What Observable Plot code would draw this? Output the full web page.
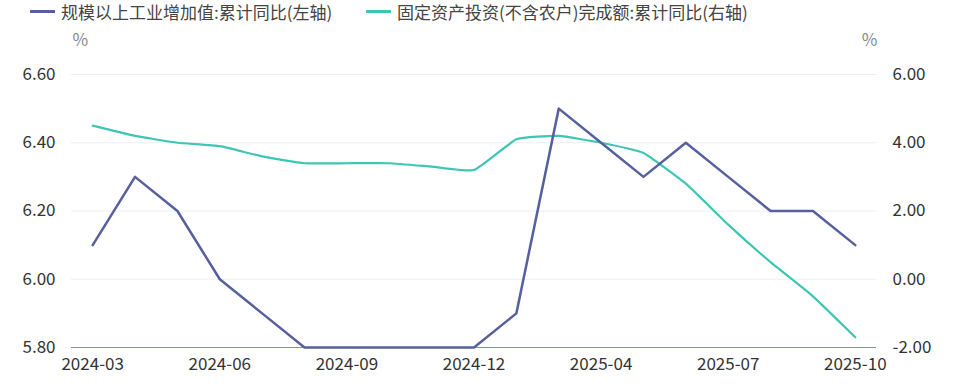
<!DOCTYPE html>
<html><head><meta charset="utf-8">
<script src="https://cdn.jsdelivr.net/npm/d3@7"></script>
<script src="https://cdn.jsdelivr.net/npm/@observablehq/plot@0.6"></script>
<style>
body{margin:0;background:#fff;font-family:"Noto Sans CJK SC","Noto Sans",sans-serif;}
#legend{height:26px;position:relative;font-size:17px;color:#444;}
.item{position:absolute;top:-1px;display:flex;align-items:center;white-space:nowrap;}
.sw{width:25px;height:3px;margin-right:6px;}
</style></head>
<body>
<div id="legend"></div>
<div id="chart"></div>
<script>
const months = ["2024-03","2024-04","2024-05","2024-06","2024-07","2024-08","2024-09","2024-10","2024-11","2024-12","2025-02","2025-03","2025-04","2025-05","2025-06","2025-07","2025-08","2025-09","2025-10"];
const industrial = [6.1,6.3,6.2,6.0,5.9,5.8,5.8,5.8,5.8,5.8,5.9,6.5,6.4,6.3,6.4,6.3,6.2,6.2,6.1];
const investment = [4.5,4.2,4.0,3.9,3.6,3.4,3.4,3.4,3.3,3.2,4.1,4.2,4.0,3.7,2.8,1.6,0.5,-0.5,-1.7];
const seriesNames = ["规模以上工业增加值:累计同比(左轴)","固定资产投资(不含农户)完成额:累计同比(右轴)"];
const colors = ["#56609f","#3dc6b5"];
const leftTicks = [5.8,6.0,6.2,6.4,6.6];
const xTicks = ["2024-03","2024-06","2024-09","2024-12","2025-04","2025-07","2025-10"];

// right axis (-2..6) mapped onto left axis (5.8..6.6)
const toLeft = v => 5.8 + (v + 2) * 0.1;
const toRight = y => Math.round(((y - 5.8) * 10 - 2) * 100) / 100;

const legend = document.getElementById("legend");
const lx = [30, 366];
seriesNames.forEach((n, i) => {
  const d = document.createElement("div");
  d.className = "item"; d.style.left = lx[i] + "px";
  d.innerHTML = `<span class="sw" style="background:${colors[i]}"></span><span>${n}</span>`;
  legend.appendChild(d);
});

const rows1 = months.map((m, i) => ({m, v: industrial[i]}));
const rows2 = months.map((m, i) => ({m, v: investment[i]}));

const chart = Plot.plot({
  width: 960, height: 360,
  marginLeft: 71, marginRight: 84, marginTop: 48, marginBottom: 39,
  style: {fontFamily: '"Noto Sans CJK SC","Noto Sans",sans-serif', fontSize: "17px", color: "#333", background: "#fff"},
  x: {type: "point", domain: months, padding: 0.5, round: false, label: null},
  y: {domain: [5.8, 6.6], label: null},
  marks: [
    Plot.gridY(leftTicks.slice(1), {stroke: "#eceef4", strokeOpacity: 1, strokeWidth: 1}),
    Plot.ruleY([5.8], {stroke: "#8590c0", strokeWidth: 1.2}),
    Plot.axisY({anchor: "left", ticks: leftTicks, tickSize: 0, tickPadding: 16, tickFormat: d3.format(".2f"), fill: "#333", fontSize: 17, label: null}),
    Plot.axisY({anchor: "right", ticks: leftTicks, tickSize: 0, tickPadding: 16, tickFormat: y => toRight(y).toFixed(2), fill: "#333", fontSize: 17, label: null}),
    Plot.axisX({ticks: xTicks, tickSize: 0, tickPadding: 10, fill: "#333", fontSize: 17, label: null}),
    Plot.text(["%"], {frameAnchor: "top-left", dx: 1, dy: -41, fill: "#888", fontSize: 17}),
    Plot.text(["%"], {frameAnchor: "top-right", dx: 1, dy: -41, fill: "#888", fontSize: 17}),
    Plot.line(rows2, {x: "m", y: d => toLeft(d.v), stroke: colors[1], strokeWidth: 2.2, curve: "cardinal", tension: 0.6}),
    Plot.line(rows1, {x: "m", y: "v", stroke: colors[0], strokeWidth: 2.5})
  ]
});
document.getElementById("chart").appendChild(chart);
</script>
</body></html>
